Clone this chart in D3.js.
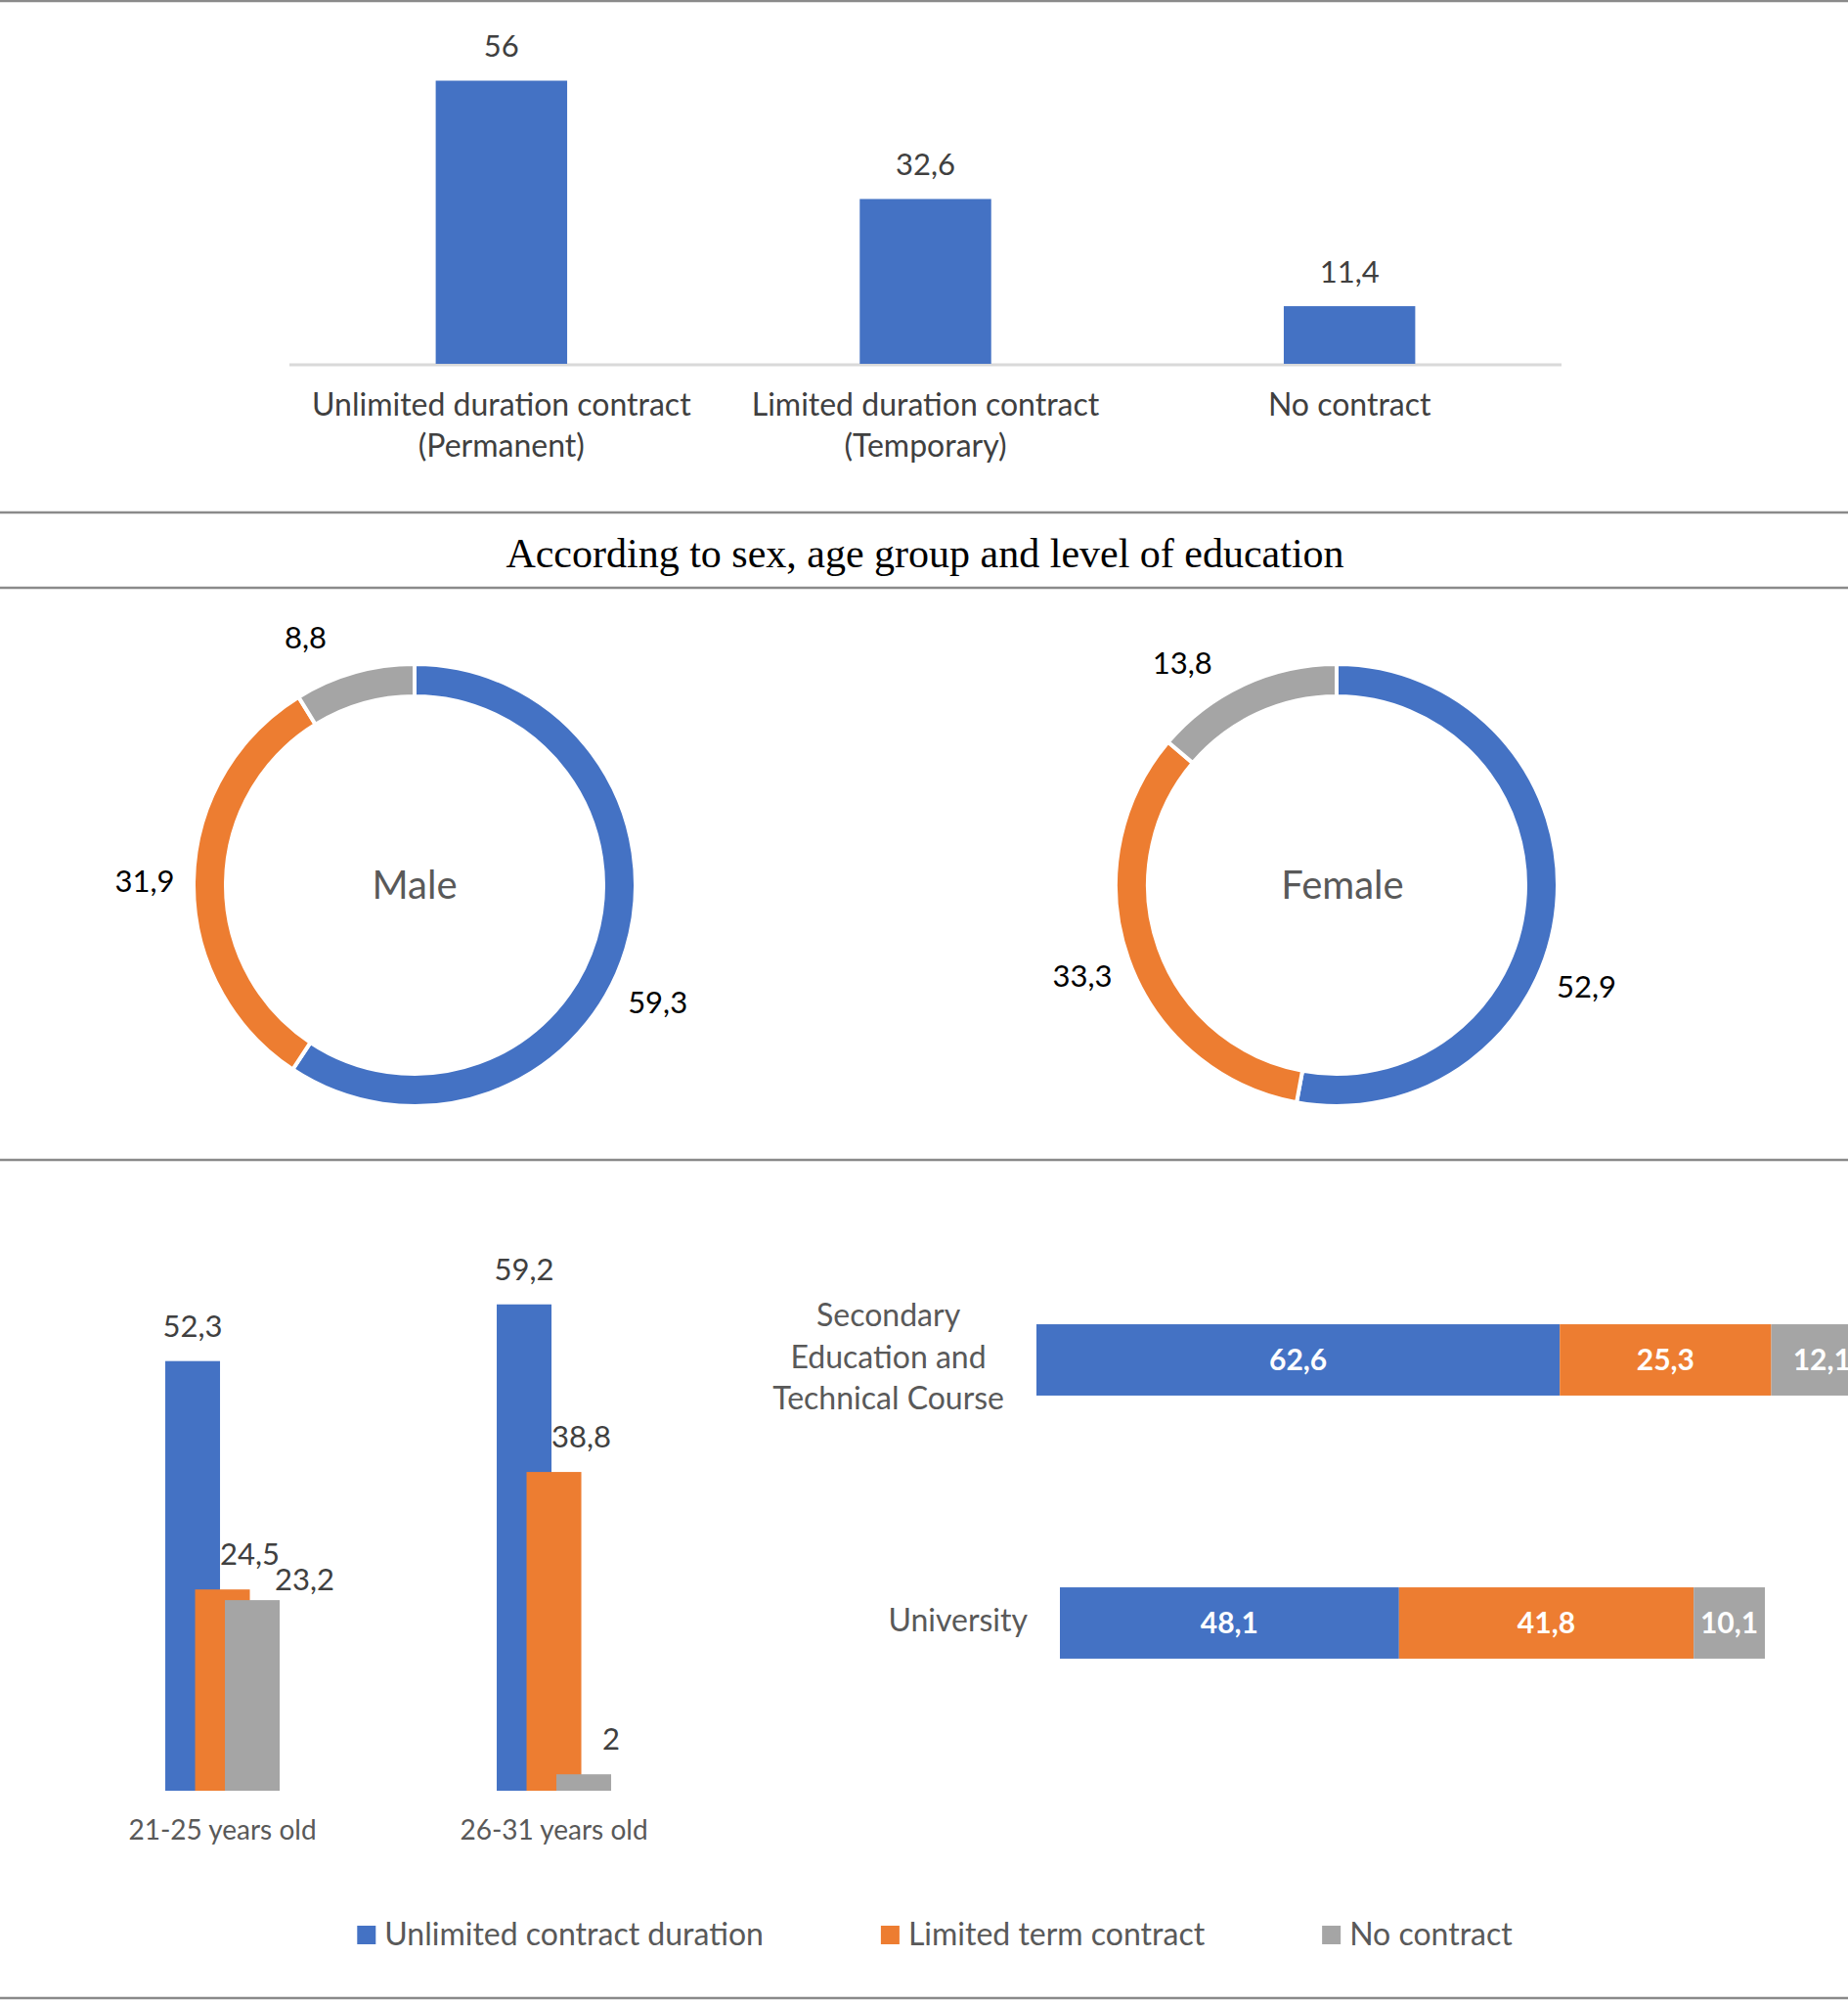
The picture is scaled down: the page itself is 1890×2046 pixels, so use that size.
<!DOCTYPE html>
<html>
<head>
<meta charset="utf-8">
<title>Contract type</title>
<script src="https://cdn.jsdelivr.net/npm/d3@7"></script>
<style>
  body { margin: 0; background: #fff; }
  svg text { font-family: Lato, "Open Sans", sans-serif; }
</style>
</head>
<body>
<div id="chart"></div>
<script>
// ---- data ----
var contractTypes = ["Unlimited duration contract\n(Permanent)", "Limited duration contract\n(Temporary)", "No contract"];
var contractValues = [56, 32.6, 11.4];

var series = ["Unlimited contract duration", "Limited term contract", "No contract"];
var colors = ["#4472C4", "#ED7D31", "#A5A5A5"];

var sexGroups = ["Male", "Female"];
var maleValues = [59.3, 31.9, 8.8];
var femaleValues = [52.9, 33.3, 13.8];

var ageGroups = ["21-25 years old", "26-31 years old"];
var unlimitedByAge = [52.3, 59.2];
var limitedByAge = [24.5, 38.8];
var noContractByAge = [23.2, 2];

var eduGroups = ["Secondary\nEducation and\nTechnical Course", "University"];
var unlimitedByEdu = [62.6, 48.1];
var limitedByEdu = [25.3, 41.8];
var noContractByEdu = [12.1, 10.1];

var title = "According to sex, age group and level of education";

var width = 1890, height = 2046;
var fmt = function(v) { return String(v).replace(".", ","); };

var svg = d3.select("#chart").append("svg")
    .attr("width", width)
    .attr("height", height);

// separator lines
[1, 524, 601, 1186, 2043].forEach(function(y) {
  svg.append("line")
     .attr("x1", 0).attr("x2", width)
     .attr("y1", y).attr("y2", y)
     .style("stroke", "#8a8a8a")
     .style("stroke-width", 2.5);
});

svg.append("text")
   .attr("x", 946)
   .attr("y", 565)
   .attr("dy", "0.35em")
   .style("font-family", "'Liberation Serif', 'DejaVu Serif', serif")
   .style("font-size", "42px")
   .style("text-anchor", "middle")
   .style("fill", "#000")
   .text(title);

// ---- top: column chart ----
var x = d3.scaleBand()
          .domain(contractTypes)
          .range([296, 1597])
          .paddingInner(0.69)
          .paddingOuter(0.345);
var y = d3.scaleLinear().domain([0, 56]).range([372, 82.5]);

svg.append("line")
   .attr("x1", 296).attr("x2", 1597)
   .attr("y1", y(0) + 1).attr("y2", y(0) + 1)
   .style("stroke", "#d9d9d9")
   .style("stroke-width", 3);

var topG = svg.append("g");
topG.selectAll("rect")
   .data(contractValues)
   .enter().append("rect")
   .attr("x", function(d, i) { return x(contractTypes[i]); })
   .attr("y", function(d) { return y(d); })
   .attr("width", x.bandwidth())
   .attr("height", function(d) { return y(0) - y(d); })
   .style("fill", colors[0]);

topG.selectAll(".val")
   .data(contractValues)
   .enter().append("text")
   .attr("class", "val")
   .attr("x", function(d, i) { return x(contractTypes[i]) + x.bandwidth() / 2; })
   .attr("y", function(d) { return y(d) - 35; })
   .attr("dy", "0.35em")
   .style("text-anchor", "middle")
   .style("font-size", "31px")
   .style("fill", "#404040")
   .text(fmt);

contractTypes.forEach(function(c) {
  var t = topG.append("text")
     .attr("x", x(c) + x.bandwidth() / 2)
     .attr("y", 425)
     .attr("dy", "0.35em")
     .style("text-anchor", "middle")
     .style("font-size", "32px")
     .style("fill", "#404040");
  c.split("\n").forEach(function(line, k) {
    t.append("tspan").attr("x", x(c) + x.bandwidth() / 2).attr("dy", k ? 42 : 0).text(line);
  });
});

// ---- middle: donuts ----
var pie = d3.pie().sort(null).value(function(d) { return d; });
var arc = d3.arc().innerRadius(193).outerRadius(226);
var labelR = 276;
var donutCenters = [[424, 905], [1367, 905]];
// Excel's "best fit" pushed a few labels round the ring (degrees)
var labelTurn = [[9, 0, -8], [17, 0, -10]];

[maleValues, femaleValues].forEach(function(vals, k) {
  var g = svg.append("g")
     .attr("transform", "translate(" + donutCenters[k] + ")");
  var slices = pie(vals);
  g.selectAll("path")
   .data(slices)
   .enter().append("path")
   .attr("d", arc)
   .style("fill", function(d, i) { return colors[i]; })
   .style("stroke", "#fff")
   .style("stroke-width", 4);
  g.selectAll(".lbl")
   .data(slices)
   .enter().append("text")
   .attr("class", "lbl")
   .attr("transform", function(d, i) {
     var a = (d.startAngle + d.endAngle) / 2 + labelTurn[k][i] * Math.PI / 180;
     return "translate(" + [labelR * Math.sin(a), -labelR * Math.cos(a)] + ")";
   })
   .attr("dy", "0.35em")
   .style("text-anchor", "middle")
   .style("font-size", "31px")
   .style("fill", "#000")
   .text(function(d) { return fmt(d.data); });
  g.append("text")
   .attr("x", k ? 6 : 0)
   .attr("dy", "0.35em")
   .style("text-anchor", "middle")
   .style("font-size", "40px")
   .style("fill", "#595959")
   .text(sexGroups[k]);
});

// ---- bottom left: grouped columns by age ----
var ageData = [unlimitedByAge, limitedByAge, noContractByAge];
var x0 = d3.scaleBand().domain(ageGroups).range([58, 736]).paddingInner(0.655).paddingOuter(0.3275);
var x1 = d3.scalePoint().domain(series).range([0, 61]);
var barW = 56;
var yA = d3.scaleLinear().domain([0, 60]).range([1831, 1327]);

var age = svg.append("g");
ageGroups.forEach(function(grp, gi) {
  var last = null;
  series.forEach(function(s, si) {
    var v = ageData[si][gi];
    var bx = x0(grp) + x1(s);
    age.append("rect")
       .attr("x", bx)
       .attr("y", yA(v))
       .attr("width", barW)
       .attr("height", yA(0) - yA(v))
       .style("fill", colors[si]);
    var t = age.append("text")
       .attr("dy", "0.35em")
       .style("text-anchor", "middle")
       .style("font-size", "31px")
       .style("fill", "#404040")
       .text(fmt(v));
    var w = t.node().getComputedTextLength();
    var lx = si === 0 ? bx + barW / 2 : bx + barW;
    var ly = yA(v) - 36;
    // keep labels from running into the previous one
    if (last && Math.abs(ly - last.y) < 26) {
      ly = last.y + 26;
      lx = Math.max(lx, last.right - 5 + w / 2);
    }
    t.attr("x", lx).attr("y", ly);
    last = { y: ly, right: lx + w / 2 };
  });
  age.append("text")
     .attr("x", x0(grp) + x0.bandwidth() / 2)
     .attr("y", 1871)
     .attr("dy", "0.35em")
     .style("text-anchor", "middle")
     .style("font-size", "28px")
     .style("fill", "#595959")
     .text(grp);
});

// ---- bottom right: stacked bars by education ----
var keys = ["u", "l", "n"];
var eduRows = eduGroups.map(function(e, i) {
  return { group: e, u: unlimitedByEdu[i], l: limitedByEdu[i], n: noContractByEdu[i] };
});
var layers = d3.stack().keys(keys)(eduRows);
var yE = d3.scaleBand().domain(eduGroups).range([1256, 1794]).paddingInner(0.729).paddingOuter(0.3645);
// each row was drawn as its own chart, at its own width
var eduX = [
  d3.scaleLinear().domain([0, 100]).range([1060, 1915]),
  d3.scaleLinear().domain([0, 100]).range([1084, 1805])
];

var edu = svg.append("g");
layers.forEach(function(layer, li) {
  layer.forEach(function(d, ri) {
    var xs = eduX[ri];
    edu.append("rect")
       .attr("x", xs(d[0]))
       .attr("y", yE(eduGroups[ri]))
       .attr("width", xs(d[1]) - xs(d[0]))
       .attr("height", yE.bandwidth())
       .style("fill", colors[li]);
    edu.append("text")
       .attr("x", (xs(d[0]) + xs(d[1])) / 2)
       .attr("y", yE(eduGroups[ri]) + yE.bandwidth() / 2)
       .attr("dy", "0.35em")
       .style("text-anchor", "middle")
       .style("font-size", "30px")
       .style("font-weight", "bold")
       .style("fill", "#fff")
       .text(fmt(d.data[layer.key]));
  });
});

eduGroups.forEach(function(e, ri) {
  var lines = e.split("\n");
  var cy = yE(e) + yE.bandwidth() / 2 + 8;
  var t = edu.append("text")
     .attr("y", cy - (lines.length - 1) * 42.5 / 2)
     .attr("dy", "0.35em")
     .style("text-anchor", "middle")
     .style("font-size", "32px")
     .style("fill", "#595959");
  var w = 0;
  lines.forEach(function(line, k) {
    var sp = t.append("tspan").attr("dy", k ? 42.5 : 0).text(line);
    w = Math.max(w, sp.node().getComputedTextLength());
  });
  var cx = eduX[ri].range()[0] - 33 - w / 2;
  t.attr("x", cx);
  t.selectAll("tspan").attr("x", cx);
});

// ---- legend ----
var legend = svg.append("g");
var items = legend.selectAll("g")
   .data(series)
   .enter().append("g");
items.append("rect")
   .attr("width", 19).attr("height", 19)
   .attr("y", 1969)
   .style("fill", function(d, i) { return colors[i]; });
items.append("text")
   .attr("x", 28)
   .attr("y", 1978)
   .attr("dy", "0.35em")
   .style("font-size", "32px")
   .style("fill", "#595959")
   .text(function(d) { return d; });
var lx = 0, pos = [];
items.each(function() {
  pos.push(lx);
  lx += 28 + d3.select(this).select("text").node().getComputedTextLength() + 120;
});
var total = lx - 120, start = 956 - total / 2;
items.attr("transform", function(d, i) { return "translate(" + (start + pos[i]) + ",0)"; });
</script>
</body>
</html>
